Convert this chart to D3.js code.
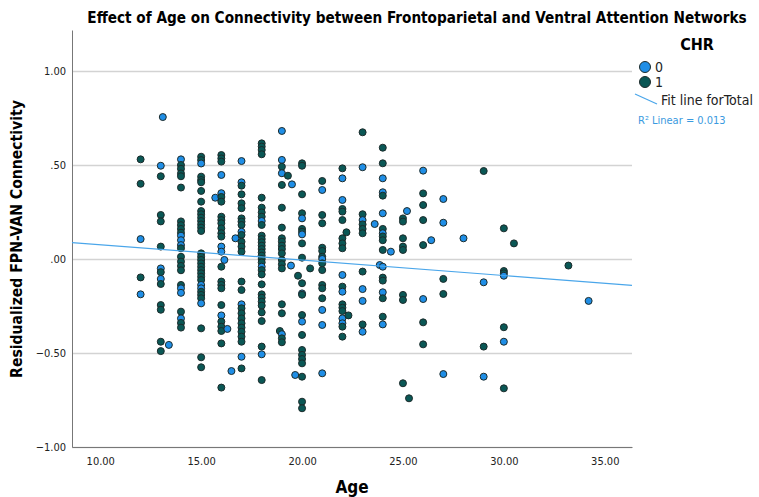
<!DOCTYPE html>
<html>
<head>
<meta charset="utf-8">
<script src="https://cdn.jsdelivr.net/npm/d3@7"></script>
<style>
  body { margin: 0; background: #fff; }
  text { font-family: "Liberation Sans Narrow", "DejaVu Sans Condensed", "Liberation Sans", sans-serif; }
</style>
</head>
<body>
<svg id="chart" width="759" height="497"></svg>
<script>
// residualized FPN-VAN connectivity, grouped by age: [age, [values...]]
const chr1Cols = [
    [12, [0.53, 0.40, -0.098]],
    [13, [0.44, 0.234, 0.20, 0.066, -0.07, -0.133, -0.245, -0.27, -0.44, -0.49]],
    [14, [0.50, 0.48, 0.455, 0.44, 0.38, 0.2, 0.18, 0.16, 0.14, 0.057, 0.012, -0.014, -0.037, -0.06, -0.138, -0.28, -0.34, -0.365]],
    [15, [0.544, 0.526, 0.438, 0.42, 0.408, 0.362, 0.305, 0.255, 0.238, 0.22, 0.202, 0.184, 0.167, 0.149, 0.03, 0.012, -0.005, -0.023, -0.041, -0.059, -0.076, -0.094, -0.112, -0.174, -0.191, -0.209, -0.369, -0.523, -0.576]],
    [16, [0.553, 0.535, 0.518, 0.33, 0.305, 0.225, 0.207, 0.19, 0.163, 0.137, 0.119, -0.041, -0.12, -0.138, -0.156, -0.245, -0.333, -0.36, -0.383, -0.449, -0.684]],
    [17, [0.39, 0.344, 0.296, 0.27, 0.216, 0.199, 0.181, 0.128, 0.092, 0.066, 0.039, -0.12, -0.165, -0.262, -0.289, -0.316, -0.342, -0.365, -0.387, -0.413, -0.44, -0.582]],
    [18, [0.615, 0.598, 0.58, 0.557, 0.326, 0.273, 0.248, 0.225, 0.181, 0.124, 0.106, 0.089, 0.071, 0.053, 0.035, 0.018, 0, -0.018, -0.059, -0.082, -0.135, -0.188, -0.206, -0.227, -0.248, -0.284, -0.33, -0.466, -0.644]],
    [18.9, [-0.383]],
    [19, [0.491, 0.394, 0.273, 0.167, 0.11, 0.092, 0.071, 0.053, 0.03, -0.005, -0.028, -0.05, -0.241, -0.289, -0.422, -0.443]],
    [19.3, [0.443]],
    [19.8, [-0.089]],
    [20, [0.509, 0.496, 0.344, 0.243, 0.16, 0.145, 0.083, 0.007, -0.129, -0.19, -0.298, -0.404, -0.484, -0.51, -0.532, -0.555, -0.626, -0.759, -0.794]],
    [20.4, [-0.05]],
    [21, [0.415, 0.234, 0.19, 0.06, 0.043, 0.012, -0.023, -0.059, -0.138, -0.156, -0.209]],
    [22, [0.482, 0.266, 0.252, 0.207, 0.11, 0.083, 0.057, -0.147, -0.241, -0.259, -0.277, -0.36, -0.413]],
    [22.2, [0.142]],
    [22.3, [-0.30]],
    [23, [0.674, 0.238, 0.184, 0.16, 0.137, -0.067, -0.348]],
    [24, [0.592, 0.509, 0.337, 0.16, 0.12, 0.10, 0.048, -0.099, -0.115, -0.209, -0.307]],
    [25, [0.216, 0.199, 0.11, 0.066, 0.048, -0.191, -0.218, -0.661]],
    [25.3, [-0.741]],
    [26, [0.349, 0.287, 0.207, 0.074, -0.337, -0.454]],
    [27, [-0.106, -0.186]],
    [29, [0.468, -0.466]],
    [30, [0.163, -0.064, -0.076, -0.363, -0.688]],
    [30.5, [0.083]],
    [33.2, [-0.035]]
];

const chr0Cols = [
    [12, [0.106, -0.188]],
    [13, [0.496, -0.05, -0.106]],
    [13.1, [0.755]],
    [13.4, [-0.457]],
    [14, [0.53, 0.124, 0.10, 0.074, -0.156, -0.18, -0.316]],
    [15, [0.508, -0.138, -0.156, -0.236]],
    [15.7, [0.326]],
    [16, [0.447, 0.35, 0.066, 0.039, -0.30]],
    [16.15, [-0.005]],
    [16.3, [-0.372]],
    [16.5, [-0.596]],
    [16.7, [0.11]],
    [17, [0.521, 0.408, 0.145, -0.241, -0.52]],
    [18, [0.202, -0.041, -0.507]],
    [19, [0.681, 0.527, 0.456, -0.4]],
    [19.45, [-0.035]],
    [19.5, [0.397]],
    [19.66, [-0.617]],
    [20, [0.216, 0.131, -0.183, -0.333]],
    [21, [0.367, 0, -0.271, -0.351, -0.608]],
    [22, [0.429, 0.314, -0.085, -0.174, -0.316, -0.342]],
    [23, [0.488, 0.207, -0.16, -0.223, -0.387]],
    [23.6, [0.186]],
    [23.85, [-0.032]],
    [24, [0.429, 0.355, 0.243, 0.137, -0.041, -0.177, -0.348]],
    [24.4, [0.039]],
    [25.2, [0.255]],
    [26, [0.47, -0.213]],
    [26.4, [0.10]],
    [27, [0.319, 0.193, -0.612]],
    [28, [0.11]],
    [29, [-0.124, -0.626]],
    [30, [-0.089, -0.44]],
    [34.2, [-0.223]]
];

// fit line for total
const fitIntercept = 0.158;
const fitSlope = -0.0082;
const r2Text = "R² Linear = 0.013";

const xTicks = [10, 15, 20, 25, 30, 35];
const yTicks = [-1, -0.5, 0, 0.5, 1];

const blue = "#1f8ee6", green = "#0a5755";

var svg = d3.select("#chart"),
    margin = { top: 30, right: 127, bottom: 50, left: 72 },
    width = 759 - margin.left - margin.right,
    height = 497 - margin.top - margin.bottom;

var x = d3.scaleLinear().domain([8.6, 36.35]).range([0, width]);
var y = d3.scaleLinear().domain([-1, 1.218]).range([height, 0]);

let g = svg.append("g").attr("transform", "translate(" + margin.left + "," + margin.top + ")");

function fmt(v) {
    let s = d3.format(".2f")(v);
    return s.replace(/^(-?)0\./, "$1.");
}

// gridlines
g.append("g")
    .call(d3.axisLeft(y).tickValues(yTicks).tickSize(-width).tickFormat(""))
    .call(a => a.select(".domain").remove())
    .selectAll("line").attr("stroke", "#d3d3d3").attr("stroke-width", 1.5);

// y axis
g.append("g")
    .call(d3.axisLeft(y).tickValues(yTicks).tickSize(0).tickPadding(6).tickFormat(fmt))
    .call(a => a.select(".domain").attr("stroke", "#777"))
    .selectAll("text").attr("font-size", 11).attr("fill", "#222")
    .style("font-family", '"Liberation Sans Narrow", "DejaVu Sans Condensed", sans-serif');

// x axis
g.append("g")
    .attr("transform", "translate(0," + height + ")")
    .call(d3.axisBottom(x).tickValues(xTicks).tickSize(0).tickPadding(10).tickFormat(d3.format(".2f")))
    .call(a => a.select(".domain").attr("stroke", "#777"))
    .selectAll("text").attr("font-size", 11).attr("fill", "#222")
    .style("font-family", '"Liberation Sans Narrow", "DejaVu Sans Condensed", sans-serif');

function flatten(cols, chr) {
    let out = [];
    cols.forEach(function (c) {
        c[1].forEach(function (v) { out.push({ age: c[0], val: v, chr: chr }); });
    });
    return out;
}
let points = flatten(chr1Cols, 1).concat(flatten(chr0Cols, 0));
// mix the draw order a bit like the original file order
points.sort(function (a, b) { return a.age - b.age || b.val - a.val; });

g.selectAll("circle.pt")
    .data(points)
    .enter()
    .append("circle")
    .attr("class", "pt")
    .attr("cx", d => x(d.age))
    .attr("cy", d => y(d.val))
    .attr("r", 3.5)
    .attr("fill", d => d.chr === 0 ? blue : green)
    .attr("stroke", "#1c2b2b")
    .attr("stroke-width", 1);

// fit line
let xd = x.domain();
g.append("line")
    .attr("x1", x(xd[0])).attr("y1", y(fitIntercept + fitSlope * xd[0]))
    .attr("x2", x(xd[1])).attr("y2", y(fitIntercept + fitSlope * xd[1]))
    .attr("stroke", "#4aa6ea")
    .attr("stroke-width", 1.2);

// titles - fit the font size to the wanted width
function fitText(sel, size, want) {
    sel.attr("font-size", size);
    let len = sel.node().getComputedTextLength();
    if (len > want) sel.attr("font-size", size * want / len);
}

let title = svg.append("text")
    .attr("x", 417).attr("y", 23)
    .attr("text-anchor", "middle")
    .attr("font-weight", "bold")
    .text("Effect of Age on Connectivity between Frontoparietal and Ventral Attention Networks");
fitText(title, 16, 660);

let ytitle = svg.append("text")
    .attr("transform", "translate(22,239) rotate(-90)")
    .attr("text-anchor", "middle")
    .attr("font-weight", "bold")
    .text("Residualized FPN-VAN Connectivity");
fitText(ytitle, 16, 278);

svg.append("text")
    .attr("x", 352).attr("y", 493)
    .attr("text-anchor", "middle")
    .attr("font-size", 17).attr("font-weight", "bold")
    .text("Age");

// legend
let lg = svg.append("g");
lg.append("text").attr("x", 697).attr("y", 50).attr("text-anchor", "middle")
    .attr("font-size", 16).attr("font-weight", "bold").text("CHR");
[[0, blue], [1, green]].forEach(function (d, i) {
    lg.append("circle").attr("cx", 645).attr("cy", 67 + i * 15).attr("r", 5.5)
        .attr("fill", d[1]).attr("stroke", "#1c2b2b").attr("stroke-width", 1);
    lg.append("text").attr("x", 655).attr("y", 72 + i * 15)
        .attr("font-size", 14).attr("fill", "#222").text(d[0]);
});
lg.append("line").attr("x1", 635).attr("y1", 94).attr("x2", 657).attr("y2", 104)
    .attr("stroke", "#4aa6ea").attr("stroke-width", 1.2);
lg.append("text").attr("x", 661).attr("y", 105)
    .attr("font-size", 14).attr("fill", "#222").text("Fit line forTotal");
lg.append("text").attr("x", 638).attr("y", 124)
    .attr("font-size", 11).attr("fill", "#3a9ae0").text(r2Text);
</script>
</body>
</html>
